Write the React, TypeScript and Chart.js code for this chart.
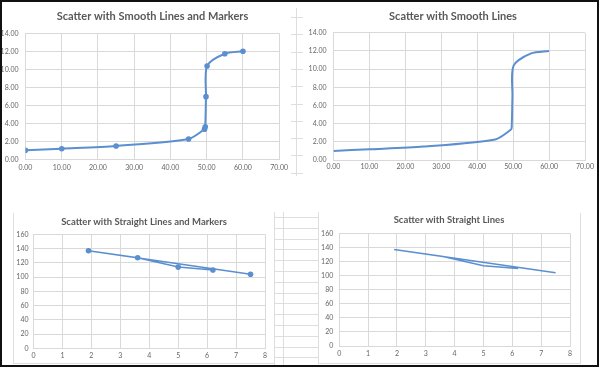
import React, { useEffect, useRef } from "react";
import { Chart, registerables } from "chart.js";

Chart.register(...registerables);

// ---- data ----
const smoothX = [0, 10, 25, 45, 49.4, 49.6, 49.8, 50.1, 55, 60];
const smoothY = [1.0, 1.18, 1.48, 2.26, 3.35, 3.62, 6.96, 10.37, 11.73, 12.0];
const straightX = [7.5, 1.9, 3.6, 5.0, 6.2];
const straightY = [104, 137, 127, 114, 110];

const smoothXTicks = [0, 10, 20, 30, 40, 50, 60, 70];
const smoothYTicks = [0, 2, 4, 6, 8, 10, 12, 14];
const straightXTicks = [0, 1, 2, 3, 4, 5, 6, 7, 8];
const straightYTicks = [0, 20, 40, 60, 80, 100, 120, 140, 160];

const titles = [
  "Scatter with Smooth Lines and Markers",
  "Scatter with Smooth Lines",
  "Scatter with Straight Lines and Markers",
  "Scatter with Straight Lines",
];

const LINE = "#5b8fcf";
const GRID = "#d9d9d9";
const TEXT = "#595959";
const TICK_TEXT = "#666666";
const TITLE_FONT = "Lato, 'Liberation Sans', sans-serif";
const TICK_FONT = "Lato, 'Liberation Sans', sans-serif";

type Geo = {
  left: number; top: number; w: number; h: number;
  L: number; R: number; T: number; B: number;
  tcy: number; xly: number; ypad: number;
  titleSize: number; tickSize: number;
};

// canvas is centred horizontally on the title
const geoTL: Geo = { left: 1, top: 2, w: 303, h: 180, L: 25.5, R: 279.2, T: 33.3, B: 159.3, tcy: 16, xly: 168, ypad: 7, titleSize: 11, tickSize: 7 };
const geoTR: Geo = { left: 307, top: 2, w: 292, h: 180, L: 333.5, R: 585, T: 32.8, B: 160, tcy: 16, xly: 166.5, ypad: 7, titleSize: 11, tickSize: 7 };
const geoBL: Geo = { left: 10, top: 200, w: 268, h: 162, L: 33.5, R: 265, T: 234.3, B: 348.3, tcy: 221.5, xly: 356, ypad: 5, titleSize: 9.5, tickSize: 7 };
const geoBR: Geo = { left: 319, top: 200, w: 260, h: 162, L: 339.3, R: 570, T: 233.3, B: 346, tcy: 219.5, xly: 354, ypad: 6, titleSize: 9.5, tickSize: 7 };

type PanelProps = {
  geo: Geo; xs: number[]; ys: number[]; title: string; smooth: boolean; markers: boolean;
  xTicks: number[]; yTicks: number[]; decimals: number; lineWidth: number;
};

function ScatterPanel(p: PanelProps) {
  const ref = useRef<HTMLCanvasElement>(null);
  useEffect(() => {
    const g = p.geo;
    const L = g.L - g.left, R = g.R - g.left, T = g.T - g.top, B = g.B - g.top;
    const cy = g.tcy - g.top;
    const wY = L;
    const wY2 = g.w - R;
    const tlh = g.titleSize * 1.2;
    const padT = cy - tlh / 2;
    const padB = T - padT - tlh;
    const xH = g.h - B;
    const klh = g.tickSize * 1.2;
    const xPad = g.xly - g.top - B - klh / 2;
    const data = p.xs.map((x, i) => ({ x, y: p.ys[i] }));
    const tickFont = { family: TICK_FONT, size: g.tickSize };
    const chart = new Chart(ref.current as HTMLCanvasElement, {
      type: "scatter",
      data: {
        datasets: [
          {
            data,
            showLine: true,
            borderColor: LINE,
            backgroundColor: LINE,
            borderWidth: p.lineWidth,
            pointRadius: p.markers ? 2.8 : 0,
            pointHoverRadius: 0,
            pointBorderWidth: 0,
            tension: p.smooth ? 0.27 : 0,
          } as any,
        ],
      },
      options: {
        responsive: false,
        animation: false,
        devicePixelRatio: 1,
        events: [],
        layout: { padding: 0 },
        plugins: {
          legend: { display: false },
          tooltip: { enabled: false },
          title: {
            display: true,
            text: p.title,
            color: TEXT,
            font: { family: TITLE_FONT, size: g.titleSize, weight: "bold" },
            padding: { top: padT, bottom: padB },
          },
        },
        scales: {
          x: {
            type: "linear",
            min: p.xTicks[0],
            max: p.xTicks[p.xTicks.length - 1],
            afterFit: (s: any) => { s.height = xH; },
            afterBuildTicks: (s: any) => { s.ticks = p.xTicks.map((v) => ({ value: v })); },
            ticks: {
              autoSkip: false,
              maxRotation: 0,
              padding: xPad,
              color: TICK_TEXT,
              font: tickFont,
              callback: (v: any) => Number(v).toFixed(p.decimals),
            },
            grid: { color: GRID, drawTicks: false },
            border: { color: GRID },
          },
          y: {
            type: "linear",
            position: "left",
            min: p.yTicks[0],
            max: p.yTicks[p.yTicks.length - 1],
            afterFit: (s: any) => { s.width = wY; },
            afterBuildTicks: (s: any) => { s.ticks = p.yTicks.map((v) => ({ value: v })); },
            ticks: {
              autoSkip: false,
              padding: g.ypad,
              color: TICK_TEXT,
              font: tickFont,
              callback: (v: any) => Number(v).toFixed(p.decimals),
            },
            grid: { color: GRID, drawTicks: false },
            border: { color: GRID },
          },
          // empty spacer on the right so the title stays centred on the whole chart object
          spacer: {
            type: "linear",
            position: "right",
            afterFit: (s: any) => { s.width = wY2; },
            ticks: { display: false },
            grid: { display: false, drawTicks: false },
            border: { display: false },
          },
        },
      } as any,
    });
    return () => chart.destroy();
  }, []);
  return (
    <canvas
      ref={ref}
      width={p.geo.w}
      height={p.geo.h}
      style={{ position: "absolute", left: p.geo.left, top: p.geo.top, width: p.geo.w, height: p.geo.h }}
    />
  );
}

function Line({ x, y, w, h, c = "#dedede" }: { x: number; y: number; w: number; h: number; c?: string }) {
  return <div style={{ position: "absolute", left: x, top: y, width: w, height: h, background: c }} />;
}

function Decor() {
  const items: React.ReactNode[] = [];
  // spreadsheet cells between top charts
  items.push(<Line key="tv" x={296} y={8} w={1} h={168} />);
  for (let k = 0; k < 10; k++) items.push(<Line key={"tt" + k} x={291} y={17 + k * 17.3} w={12} h={1} />);
  // spreadsheet cells between bottom charts
  items.push(<Line key="bv1" x={274} y={212} w={1} h={154} />);
  items.push(<Line key="bv2" x={283} y={212} w={1} h={154} />);
  items.push(<Line key="bv3" x={318} y={212} w={1} h={152} />);
  for (let k = 0; k < 14; k++) items.push(<Line key={"bh" + k} x={274} y={217 + k * 10.8} w={44} h={1} />);
  // bottom chart frames
  items.push(<Line key="f1" x={13} y={213} w={1} h={150} />);
  items.push(<Line key="f2" x={13} y={363} w={261} h={1} />);
  items.push(<Line key="f3" x={580} y={213} w={1} h={150} />);
  items.push(<Line key="f4" x={318} y={363} w={263} h={1} />);
  return <>{items}</>;
}

export default function App() {
  return (
    <div style={{ position: "fixed", left: 0, top: 0, width: 600, height: 368, background: "#fff", overflow: "hidden" }}>
      <Decor />
      <ScatterPanel geo={geoTL} xs={smoothX} ys={smoothY} title={titles[0]} smooth markers xTicks={smoothXTicks} yTicks={smoothYTicks} decimals={2} lineWidth={2} />
      <ScatterPanel geo={geoTR} xs={smoothX} ys={smoothY} title={titles[1]} smooth markers={false} xTicks={smoothXTicks} yTicks={smoothYTicks} decimals={2} lineWidth={2} />
      <ScatterPanel geo={geoBL} xs={straightX} ys={straightY} title={titles[2]} smooth={false} markers xTicks={straightXTicks} yTicks={straightYTicks} decimals={0} lineWidth={1.5} />
      <ScatterPanel geo={geoBR} xs={straightX} ys={straightY} title={titles[3]} smooth={false} markers={false} xTicks={straightXTicks} yTicks={straightYTicks} decimals={0} lineWidth={1.5} />
      <div style={{ position: "absolute", left: 0, top: 0, width: 599, height: 367, boxSizing: "border-box", border: "2px solid #111" }} />
    </div>
  );
}
